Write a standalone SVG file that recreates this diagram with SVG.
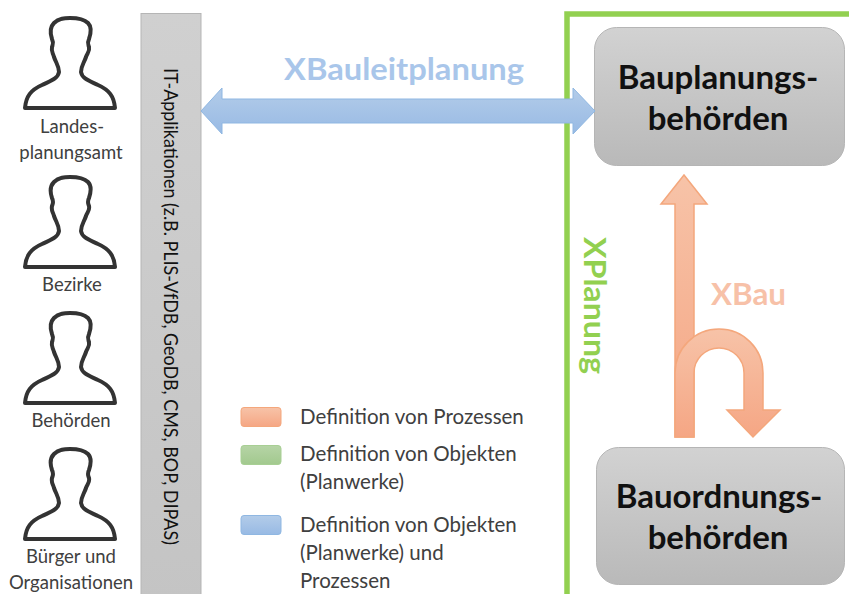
<svg xmlns="http://www.w3.org/2000/svg" xmlns:xlink="http://www.w3.org/1999/xlink" width="849" height="594" viewBox="0 0 849 594">
<style>
text{font-family:"Lato","Open Sans","Liberation Sans",sans-serif;}
.lbl{font-size:18.500px;fill:#404040;text-anchor:middle}
.leg{font-size:20.500px;fill:#404040}
.box{font-size:33px;font-weight:700;fill:#111;text-anchor:middle}
.person{fill:none;stroke:#333;stroke-width:4;stroke-linejoin:round}
.oa{fill:url(#og);stroke:#f4a77c;stroke-width:1.5}
</style>
<defs>
<linearGradient id="gb" x1="0" y1="0" x2="0" y2="1"><stop offset="0" stop-color="#d2d2d2"/><stop offset="1" stop-color="#b9b9b9"/></linearGradient>
<linearGradient id="gbar" x1="0" y1="0" x2="0" y2="1"><stop offset="0" stop-color="#d0d0d0"/><stop offset="1" stop-color="#c4c4c4"/></linearGradient>
<linearGradient id="bg" x1="0" y1="0" x2="0" y2="1"><stop offset="0" stop-color="#b3cce9"/><stop offset="1" stop-color="#98bae4"/></linearGradient>
<linearGradient id="og" x1="0" y1="0" x2="0" y2="1"><stop offset="0" stop-color="#f7c3a8"/><stop offset="1" stop-color="#f5a684"/></linearGradient>
<linearGradient id="gg" x1="0" y1="0" x2="0" y2="1"><stop offset="0" stop-color="#b6d4a6"/><stop offset="1" stop-color="#a2c98e"/></linearGradient>
<path id="p" d="M25 108C26 96 31 90 42 85C50 81 58 79 59 72C59 66 56 63 54 57C53 53 51 52 52 47C53 44 54 43 52 39C50 33 50 27 54 23C59 18 65 18 70 18C76 18 84 19 88 23C92 27 91 33 89 39C87 43 88 44 89 47C90 52 87 53 86 57C84 63 81 66 81 72C82 79 90 81 98 85C109 90 114 96 115 108Z"/>
</defs>
<rect width="849" height="594" fill="#fff"/>
<g id="it-app"><rect x="141" y="13.500" width="60" height="590" fill="url(#gbar)" stroke="#b5b5b5"/>
<text transform="translate(164,68) rotate(90)" font-size="19" fill="#111" textLength="477" lengthAdjust="spacingAndGlyphs">IT-Applikationen (z.B. PLIS-VfDB, GeoDB, CMS, BOP, DIPAS)</text></g>
<g id="person-1"><use xlink:href="#p" class="person"/><text class="lbl" x="72" y="133">Landes-</text><text class="lbl" x="71" y="159">planungsamt</text></g>
<g id="person-2"><use xlink:href="#p" y="159" class="person"/><text class="lbl" x="72" y="291">Bezirke</text></g>
<g id="person-3"><use xlink:href="#p" y="295" class="person"/><text class="lbl" x="71" y="427">Behörden</text></g>
<g id="person-4"><use xlink:href="#p" y="431" class="person"/><text class="lbl" x="71" y="563">Bürger und</text><text class="lbl" x="71" y="589">Organisationen</text></g>
<g id="xplanung-frame"><path d="M567 600V14H849" fill="none" stroke="#92d050" stroke-width="5.500"/>
<text transform="translate(584,237) rotate(90)" font-size="30" font-weight="700" fill="#92d050" textLength="137" lengthAdjust="spacingAndGlyphs">XPlanung</text></g>
<g id="bauplanung"><rect x="594.500" y="27.500" width="250" height="138" rx="22" fill="url(#gb)" stroke="#b5b5b5"/>
<text class="box" x="718" y="89">Bauplanungs-</text><text class="box" x="718" y="130">behörden</text></g>
<g id="bauordnung"><rect x="596.500" y="447.500" width="248" height="137" rx="22" fill="url(#gb)" stroke="#b5b5b5"/>
<text class="box" x="719" y="508">Bauordnungs-</text><text class="box" x="718" y="549">behörden</text></g>
<g id="connectors">
<path d="M201 111L222 88V99H573V88L595 111L573 134V123H222V134Z" fill="url(#bg)" stroke="#8fb7e2"/>
<path class="oa" d="M675 437V204H661L684 175L707 204H694V437Z"/>
<path class="oa" d="M675 437V373A44 44 0 0 1 763 373V410H780L753 437L727 410H744V373A25 25 0 0 0 694 373V437Z"/>
</g>
<g id="labels"><text x="284" y="80" font-size="31" font-weight="700" fill="#a9c6ea" textLength="240" lengthAdjust="spacingAndGlyphs">XBauleitplanung</text>
<text x="711" y="305" font-size="30" font-weight="700" fill="#f7c1a8" textLength="75" lengthAdjust="spacingAndGlyphs">XBau</text></g>
<g id="legend">
<rect x="241" y="407.500" width="40" height="19" rx="3" fill="url(#og)" stroke="#f4a77c"/>
<rect x="241" y="445.500" width="40" height="19" rx="3" fill="url(#gg)" stroke="#a8cf94"/>
<rect x="241" y="515.500" width="40" height="19" rx="3" fill="url(#bg)" stroke="#8fb7e2"/>
<text class="leg" x="300" y="424">Definition von Prozessen</text>
<text class="leg" x="300" y="461">Definition von Objekten</text><text class="leg" x="300" y="489">(Planwerke)</text>
<text class="leg" x="300" y="532">Definition von Objekten</text><text class="leg" x="300" y="560">(Planwerke) und</text><text class="leg" x="300" y="588">Prozessen</text>
</g>
</svg>
